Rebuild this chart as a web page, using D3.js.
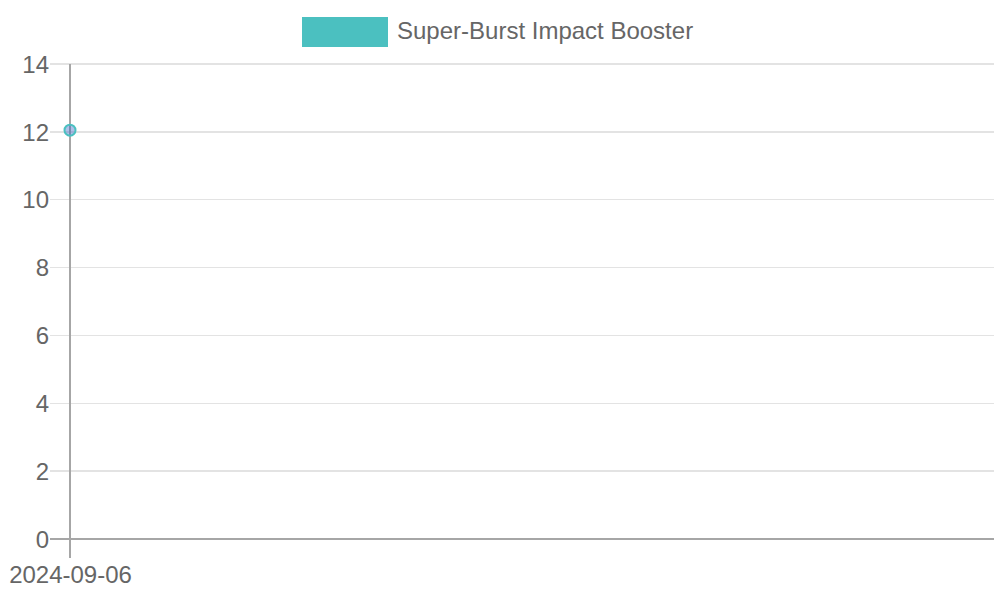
<!DOCTYPE html>
<html><head><meta charset="utf-8">
<script src="https://cdn.jsdelivr.net/npm/d3@7"></script>
<style>body{margin:0;background:#fff}svg{display:block;font-family:"Liberation Sans",Arial,sans-serif}</style>
</head><body>
<svg id="c" width="1000" height="600"></svg>
<script>
const categories = ["2024-09-06"];
const seriesName = "Super-Burst Impact Booster";
const seriesValues = [12.05];
const yTicks = [0, 2, 4, 6, 8, 10, 12, 14];

(function () {
const svg = d3.select("#c");
const mL = 70, mR = 994, mT = 64, mB = 539;
const x = d3.scalePoint().domain(categories).range([mL, mR]).padding(0).align(0);
const y = d3.scaleLinear().domain([0, 14]).range([mB, mT]);
const textColor = "#666";
const fs = 24;

// grid
svg.append("g").selectAll("line").data(yTicks).join("line")
  .attr("x1", mL - 20).attr("x2", mR)
  .attr("y1", d => y(d)).attr("y2", d => y(d))
  .attr("stroke", d => d === 0 ? "#a6a6a6" : "#e3e3e3").attr("stroke-width", 1.5)
  .attr("shape-rendering", "crispEdges");

// y axis
const ya = svg.append("g").attr("transform", `translate(${mL},0)`)
  .call(d3.axisLeft(y).tickValues(yTicks).tickSize(0).tickPadding(21).tickFormat(d3.format("d")));
ya.select(".domain").remove();
ya.selectAll("text").attr("fill", textColor).style("font-size", fs + "px").attr("dy", "0.34em")
  .style("font-family", "Liberation Sans, Arial, sans-serif");

// y axis line
svg.append("line").attr("x1", mL).attr("x2", mL).attr("y1", mT).attr("y2", mB + 19)
  .attr("stroke", "#a6a6a6").attr("stroke-width", 1.5).attr("shape-rendering", "crispEdges");

// x axis
const xa = svg.append("g").attr("transform", `translate(0,${mB})`)
  .call(d3.axisBottom(x).tickSize(0).tickPadding(27));
xa.select(".domain").remove();
xa.selectAll("text").attr("fill", textColor).style("font-size", fs + "px")
  .style("font-family", "Liberation Sans, Arial, sans-serif");

// point
svg.append("g").selectAll("circle").data(seriesValues).join("circle")
  .attr("cx", (d, i) => x(categories[i])).attr("cy", d => y(d)).attr("r", 5.5)
  .attr("fill", "rgba(54,100,200,0.4)").attr("stroke", "#4bc0c0").attr("stroke-width", 2);

// legend
const lg = svg.append("g");
lg.append("rect").attr("x", 302).attr("y", 17).attr("width", 86).attr("height", 30).attr("fill", "#4bc0c0");
lg.append("text").attr("x", 397).attr("y", 31).attr("dy", "0.35em").attr("fill", textColor)
  .style("font-size", fs + "px").text(seriesName);
})();
</script>
</body></html>
